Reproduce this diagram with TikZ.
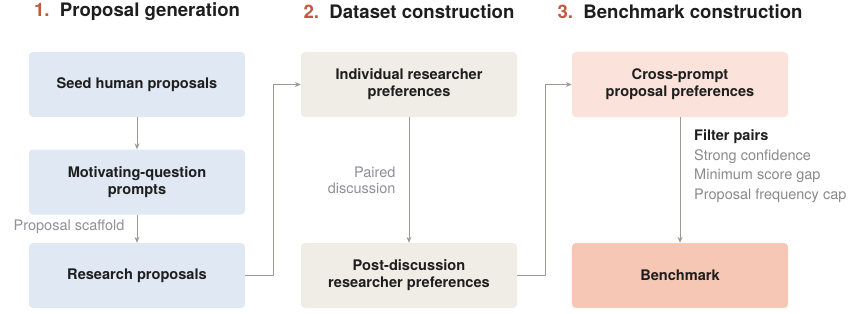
\documentclass[tikz,border=0pt]{standalone}
\usepackage{fontspec}
\setmainfont{TeX Gyre Heros}
\usepackage{tikz}
\usetikzlibrary{arrows.meta}

\definecolor{numred}{HTML}{C25A40}
\definecolor{titleink}{HTML}{1E1E1E}
\definecolor{blueback}{HTML}{DFE8F3}
\definecolor{beigeback}{HTML}{F0EDE7}
\definecolor{peachback}{HTML}{FBE3DB}
\definecolor{salmonback}{HTML}{F6C7B5}
\definecolor{linkgray}{HTML}{9E9A94}
\definecolor{notegray}{HTML}{8F9098}
\definecolor{listgray}{HTML}{8A8A8A}

\tikzset{
  stagebox/.style={rounded corners=4pt, minimum width=216pt, minimum height=65pt,
    align=center, font=\fontsize{14.6}{17}\selectfont\bfseries, text=titleink, inner sep=2pt},
  stagetitle/.style={font=\fontsize{18.6}{21}\selectfont\bfseries, text=titleink},
  link/.style={-{Stealth[length=6pt, width=5pt, open]}, draw=linkgray, line width=0.9pt},
  note/.style={font=\fontsize{14.5}{16}\selectfont, text=notegray, align=right}
}

\begin{document}
\begin{tikzpicture}[x=1pt, y=-1pt]
  \useasboundingbox (0,0) rectangle (861,313);

  % stage titles
  \node[stagetitle] (t1) at (137,12){\textcolor{numred}{1.}\ \ Proposal generation};
  \node[stagetitle] (t2) at (409,12){\textcolor{numred}{2.}\ \ Dataset construction};
  \node[stagetitle] (t3) at (680,12){\textcolor{numred}{3.}\ \ Benchmark construction};

  % column 1
  \node[stagebox, fill=blueback] (seed) at (137,84.5){Seed human proposals};
  \node[stagebox, fill=blueback] (motiv) at (137,182){Motivating-question\\prompts};
  \node[stagebox, fill=blueback] (resp) at (137,275.5){Research proposals};
  \draw[link] (seed) -- (motiv);
  \draw[link] (motiv) -- (resp);
  \node[note, anchor=east] (scaf) at (128,227){Proposal scaffold};

  % column 2
  \node[stagebox, fill=beigeback] (indiv) at (409,84.5){Individual researcher\\preferences};
  \node[stagebox, fill=beigeback] (post) at (409,275.5){Post-discussion\\researcher preferences};
  \draw[link] (indiv) -- (post);
  \node[note, anchor=east] (paired) at (399,180){Paired\\discussion};

  % column 3
  \node[stagebox, fill=peachback] (cross) at (680,84.5){Cross-prompt\\proposal preferences};
  \node[stagebox, fill=salmonback] (bench) at (680,275.5){Benchmark};
  \draw[link] (cross) -- (bench);
  \node[anchor=north west, align=left, inner sep=0pt, font=\fontsize{14.5}{19.5}\selectfont, text=listgray] (filt) at (694,129.5)
    {\textcolor{titleink}{\bfseries Filter pairs}\\Strong confidence\\Minimum score gap\\Proposal frequency cap};

  % hand-offs between stages
  \draw[link] (resp.east) -- ++(28,0) |- (indiv.west);
  \draw[link] (post.east) -- ++(28,0) |- (cross.west);
\end{tikzpicture}
\end{document}
